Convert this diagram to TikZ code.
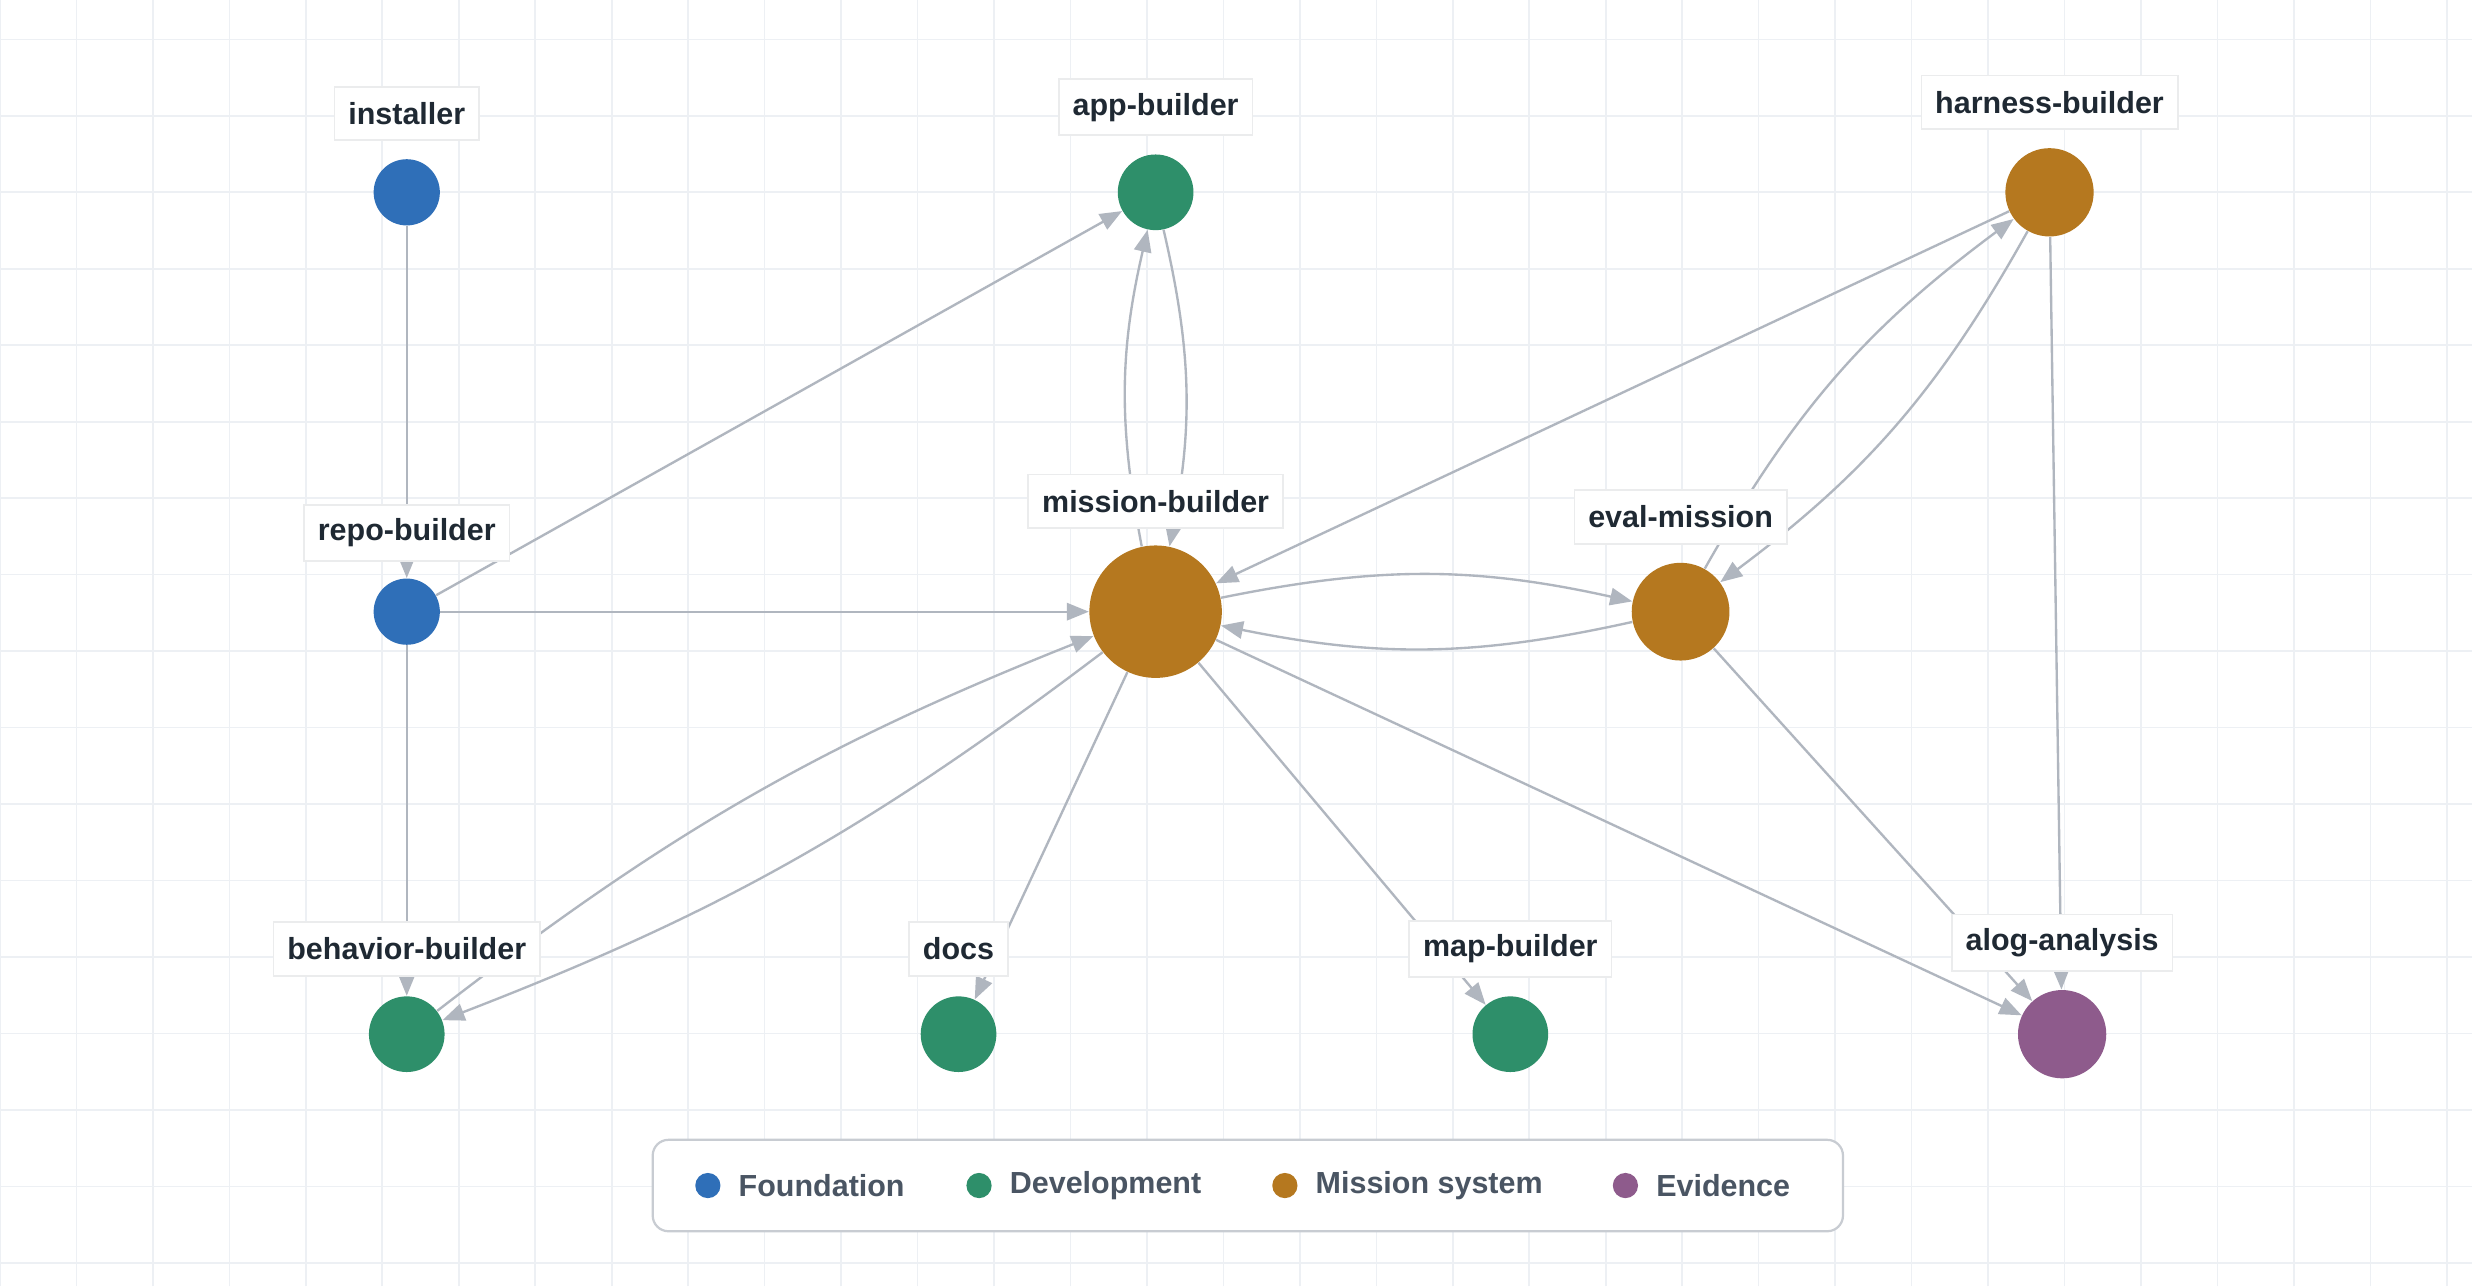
\documentclass[tikz,border=0pt]{standalone}
\usepackage{fontspec}
\setmainfont{Liberation Sans}
\usetikzlibrary{arrows.meta, positioning}
\definecolor{foundation}{HTML}{2F6FB8}
\definecolor{development}{HTML}{2E8F6A}
\definecolor{mission}{HTML}{B5781F}
\definecolor{evidence}{HTML}{8E5B8C}
\definecolor{edgegray}{HTML}{B0B6BF}
\definecolor{gridgray}{HTML}{EDF0F4}
\definecolor{labeltext}{HTML}{1F2933}
\definecolor{legendtext}{HTML}{4A5563}
\tikzstyle{dot}=[circle, inner sep=0pt]
\tikzstyle{tag}=[fill=white, draw=gridgray!70!gray!40, line width=0.6pt, rectangle, inner sep=5pt, minimum height=0.68cm, text=labeltext, font=\fontsize{11}{13}\selectfont\bfseries]
\tikzstyle{dep}=[draw=edgegray, line width=0.85pt, -{Triangle[length=0.28cm, width=0.22cm]}]
\tikzstyle{key}=[circle, inner sep=0pt, minimum size=0.32cm]
\tikzstyle{keytext}=[right=0.1cm, text=legendtext, font=\fontsize{11}{13}\selectfont\bfseries]

\begin{document}
\begin{tikzpicture}
\useasboundingbox (0,0) rectangle (31.36,16.32);
\fill[white] (0,0) rectangle (31.36,16.32);

% background grid
\foreach \x in {0,0.97,...,31.4}
  \draw [gridgray, line width=0.6pt] (\x,0) -- (\x,16.32);
\foreach \y in {0.3,1.27,...,16.32}
  \draw [gridgray, line width=0.6pt] (0,\y) -- (31.36,\y);

% nodes
\node[dot, fill=foundation, minimum size=0.84cm] (installer) at (5.16,13.88) {};
\node[dot, fill=development, minimum size=0.96cm] (app) at (14.66,13.88) {};
\node[dot, fill=mission, minimum size=1.12cm] (harness) at (26.0,13.88) {};
\node[dot, fill=foundation, minimum size=0.84cm] (repo) at (5.16,8.56) {};
\node[dot, fill=mission, minimum size=1.68cm] (missionb) at (14.66,8.56) {};
\node[dot, fill=mission, minimum size=1.24cm] (eval) at (21.32,8.56) {};
\node[dot, fill=development, minimum size=0.96cm] (behavior) at (5.16,3.2) {};
\node[dot, fill=development, minimum size=0.96cm] (docs) at (12.16,3.2) {};
\node[dot, fill=development, minimum size=0.96cm] (map) at (19.16,3.2) {};
\node[dot, fill=evidence, minimum size=1.12cm] (alog) at (26.16,3.2) {};

% dependencies
\draw [dep] (installer) -- (repo);
\draw [dep] (repo) -- (app);
\draw [dep] (repo) -- (missionb);
\draw [dep] (repo) -- (behavior);
\draw [dep] (missionb) to[bend left=12] (app);
\draw [dep] (app) to[bend left=12] (missionb);
\draw [dep] (harness) -- (missionb);
\draw [dep] (eval) to[bend left=12] (harness);
\draw [dep] (harness) to[bend left=12] (eval);
\draw [dep] (harness) -- (alog);
\draw [dep] (missionb) to[bend left=12] (eval);
\draw [dep] (eval) to[bend left=12] (missionb);
\draw [dep] (behavior) to[bend left=8] (missionb);
\draw [dep] (missionb) to[bend left=8] (behavior);
\draw [dep] (missionb) -- (docs);
\draw [dep] (missionb) -- (map);
\draw [dep] (missionb) -- (alog);
\draw [dep] (eval) -- (alog);

% labels
\node[tag] (installer-tag) at (5.16,14.88) {installer};
\node[tag] (app-tag) at (14.66,14.96) {app-builder};
\node[tag] (harness-tag) at (26.0,15.02) {harness-builder};
\node[tag] (repo-tag) at (5.16,9.56) {repo-builder};
\node[tag] (mission-tag) at (14.66,9.96) {mission-builder};
\node[tag] (eval-tag) at (21.32,9.76) {eval-mission};
\node[tag] (behavior-tag) at (5.16,4.28) {behavior-builder};
\node[tag] (docs-tag) at (12.16,4.28) {docs};
\node[tag] (map-tag) at (19.16,4.28) {map-builder};
\node[tag] (alog-tag) at (26.16,4.36) {alog-analysis};

% legend
\draw [fill=white, draw=edgegray!70, line width=0.8pt, rounded corners=0.2cm] (8.28,0.7) rectangle (23.38,1.86);
\node[key, fill=foundation] (k1) at (8.98,1.28) {};
\node[keytext] at (k1.east) {Foundation};
\node[key, fill=development] (k2) at (12.42,1.28) {};
\node[keytext] at (k2.east) {Development};
\node[key, fill=mission] (k3) at (16.3,1.28) {};
\node[keytext] at (k3.east) {Mission system};
\node[key, fill=evidence] (k4) at (20.62,1.28) {};
\node[keytext] at (k4.east) {Evidence};
\end{tikzpicture}
\end{document}
